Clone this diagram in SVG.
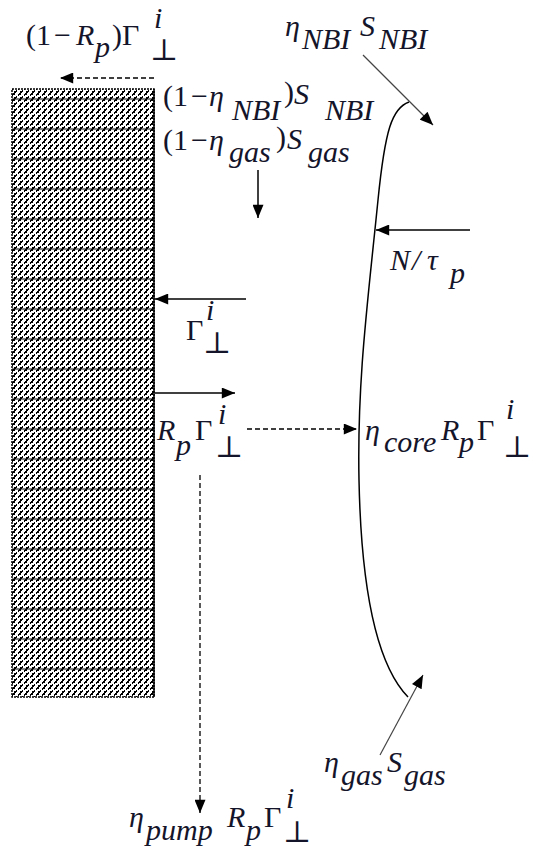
<svg xmlns="http://www.w3.org/2000/svg" width="533" height="850" viewBox="0 0 533 850">
<style>
text{font-family:"Liberation Serif","DejaVu Serif",serif;font-size:30px;fill:#14142a}
.i{font-style:italic}
.ln{stroke:#000;stroke-width:1.5;fill:none}
.th{stroke:#444;stroke-width:1.2;fill:none}
.ds{stroke:#000;stroke-width:1.3;fill:none;stroke-dasharray:5 3}
</style>
<defs>
<marker id="ah" viewBox="0 0 12 10" refX="12" refY="5" markerWidth="14" markerHeight="11" markerUnits="userSpaceOnUse" orient="auto">
<path d="M0,0 L12,5 L0,10 z" fill="#000"/>
</marker>
<pattern id="hatch" width="6" height="6" patternUnits="userSpaceOnUse">
<rect width="6" height="6" fill="#fff"/>
<path d="M0,5 L2,4 L3,2 L5,1" stroke="#000" stroke-width="1.6" fill="none" shape-rendering="crispEdges"/>
</pattern>
<pattern id="rows" width="10" height="30" patternUnits="userSpaceOnUse">
<line x1="0" y1="9" x2="10" y2="9" stroke="#000" stroke-width="1"/>
</pattern>
</defs>

<g id="wall">
<rect x="12" y="89" width="142" height="608" fill="url(#hatch)"/>
<rect x="12" y="89" width="142" height="608" fill="url(#rows)"/>
<rect x="12" y="89" width="142" height="608" fill="none" stroke="#000" stroke-width="1.5" stroke-dasharray="2 1"/>
<line x1="154" y1="89" x2="154" y2="697" stroke="#000" stroke-width="1.5"/>
</g>

<g id="plasma-edge">
<path class="ln" stroke-width="2" d="M409,102 C392,108 385,130 378,200 C368,300 357,380 359,480 C361,580 374,662 408,697"/>
</g>

<g id="connectors">
<line class="ds" x1="154" y1="78" x2="60" y2="78" marker-end="url(#ah)"/>
<line class="ln" x1="258" y1="170" x2="258" y2="218" marker-end="url(#ah)"/>
<line class="th" x1="363" y1="55" x2="433" y2="125" marker-end="url(#ah)"/>
<line class="ln" x1="470" y1="230" x2="376" y2="230" marker-end="url(#ah)"/>
<line class="ln" x1="246" y1="299" x2="155" y2="299" marker-end="url(#ah)"/>
<line class="ln" x1="155" y1="393" x2="235" y2="393" marker-end="url(#ah)"/>
<line class="ds" x1="247" y1="429" x2="357" y2="429" marker-end="url(#ah)"/>
<line class="ds" x1="200" y1="475" x2="200" y2="813" marker-end="url(#ah)"/>
<line class="th" x1="380" y1="755" x2="423" y2="675" marker-end="url(#ah)"/>
</g>

<g id="label-reflected-lost">
<text><tspan x="26" y="45">(1</tspan><tspan x="54" y="45">−</tspan><tspan class="i" x="76" y="45">R</tspan><tspan class="i" x="95" y="57">p</tspan><tspan x="112" y="45">)Γ</tspan><tspan class="i" x="154" y="28">i</tspan><tspan x="150" y="60">⊥</tspan></text>
</g>
<g id="label-nbi-source">
<text><tspan class="i" x="285" y="36">η</tspan><tspan class="i" x="302" y="49">NBI</tspan><tspan class="i" x="360" y="36">S</tspan><tspan class="i" x="379" y="49">NBI</tspan></text>
</g>
<g id="label-nbi-lost">
<text><tspan x="163" y="106">(1</tspan><tspan x="191" y="106">−</tspan><tspan class="i" x="209" y="106">η</tspan><tspan class="i" x="232" y="120">NBI</tspan><tspan x="284" y="102">)</tspan><tspan class="i" x="294" y="104">S</tspan><tspan class="i" x="325" y="120">NBI</tspan></text>
</g>
<g id="label-gas-lost">
<text><tspan x="163" y="150">(1</tspan><tspan x="191" y="150">−</tspan><tspan class="i" x="209" y="150">η</tspan><tspan class="i" x="229" y="162">gas</tspan><tspan x="276" y="147">)</tspan><tspan class="i" x="287" y="149">S</tspan><tspan class="i" x="308" y="162">gas</tspan></text>
</g>
<g id="label-core-loss">
<text><tspan class="i" x="390" y="270">N</tspan><tspan class="i" x="412" y="270">/</tspan><tspan class="i" x="427" y="270">τ</tspan><tspan class="i" x="450" y="283">p</tspan></text>
</g>
<g id="label-flux">
<text><tspan x="186" y="340">Γ</tspan><tspan class="i" x="206" y="320">i</tspan><tspan x="203" y="353">⊥</tspan></text>
</g>
<g id="label-recycled">
<text><tspan class="i" x="157" y="440">R</tspan><tspan class="i" x="176" y="455">p</tspan><tspan x="195" y="440">Γ</tspan><tspan class="i" x="218" y="424">i</tspan><tspan x="215" y="457">⊥</tspan></text>
</g>
<g id="label-core-recycled">
<text><tspan class="i" x="365" y="440">η</tspan><tspan class="i" x="384" y="452">core</tspan><tspan class="i" x="441" y="440">R</tspan><tspan class="i" x="459" y="452">p</tspan><tspan x="477" y="440">Γ</tspan><tspan class="i" x="506" y="419">i</tspan><tspan x="503" y="457">⊥</tspan></text>
</g>
<g id="label-gas-source">
<text><tspan class="i" x="324" y="772">η</tspan><tspan class="i" x="341" y="785">gas</tspan><tspan class="i" x="387" y="772">S</tspan><tspan class="i" x="404" y="785">gas</tspan></text>
</g>
<g id="label-pump">
<text><tspan class="i" x="129" y="827">η</tspan><tspan class="i" x="146" y="840">pump</tspan><tspan class="i" x="227" y="827">R</tspan><tspan class="i" x="246" y="840">p</tspan><tspan x="264" y="827">Γ</tspan><tspan class="i" x="286" y="808">i</tspan><tspan x="283" y="842">⊥</tspan></text>
</g>
</svg>
